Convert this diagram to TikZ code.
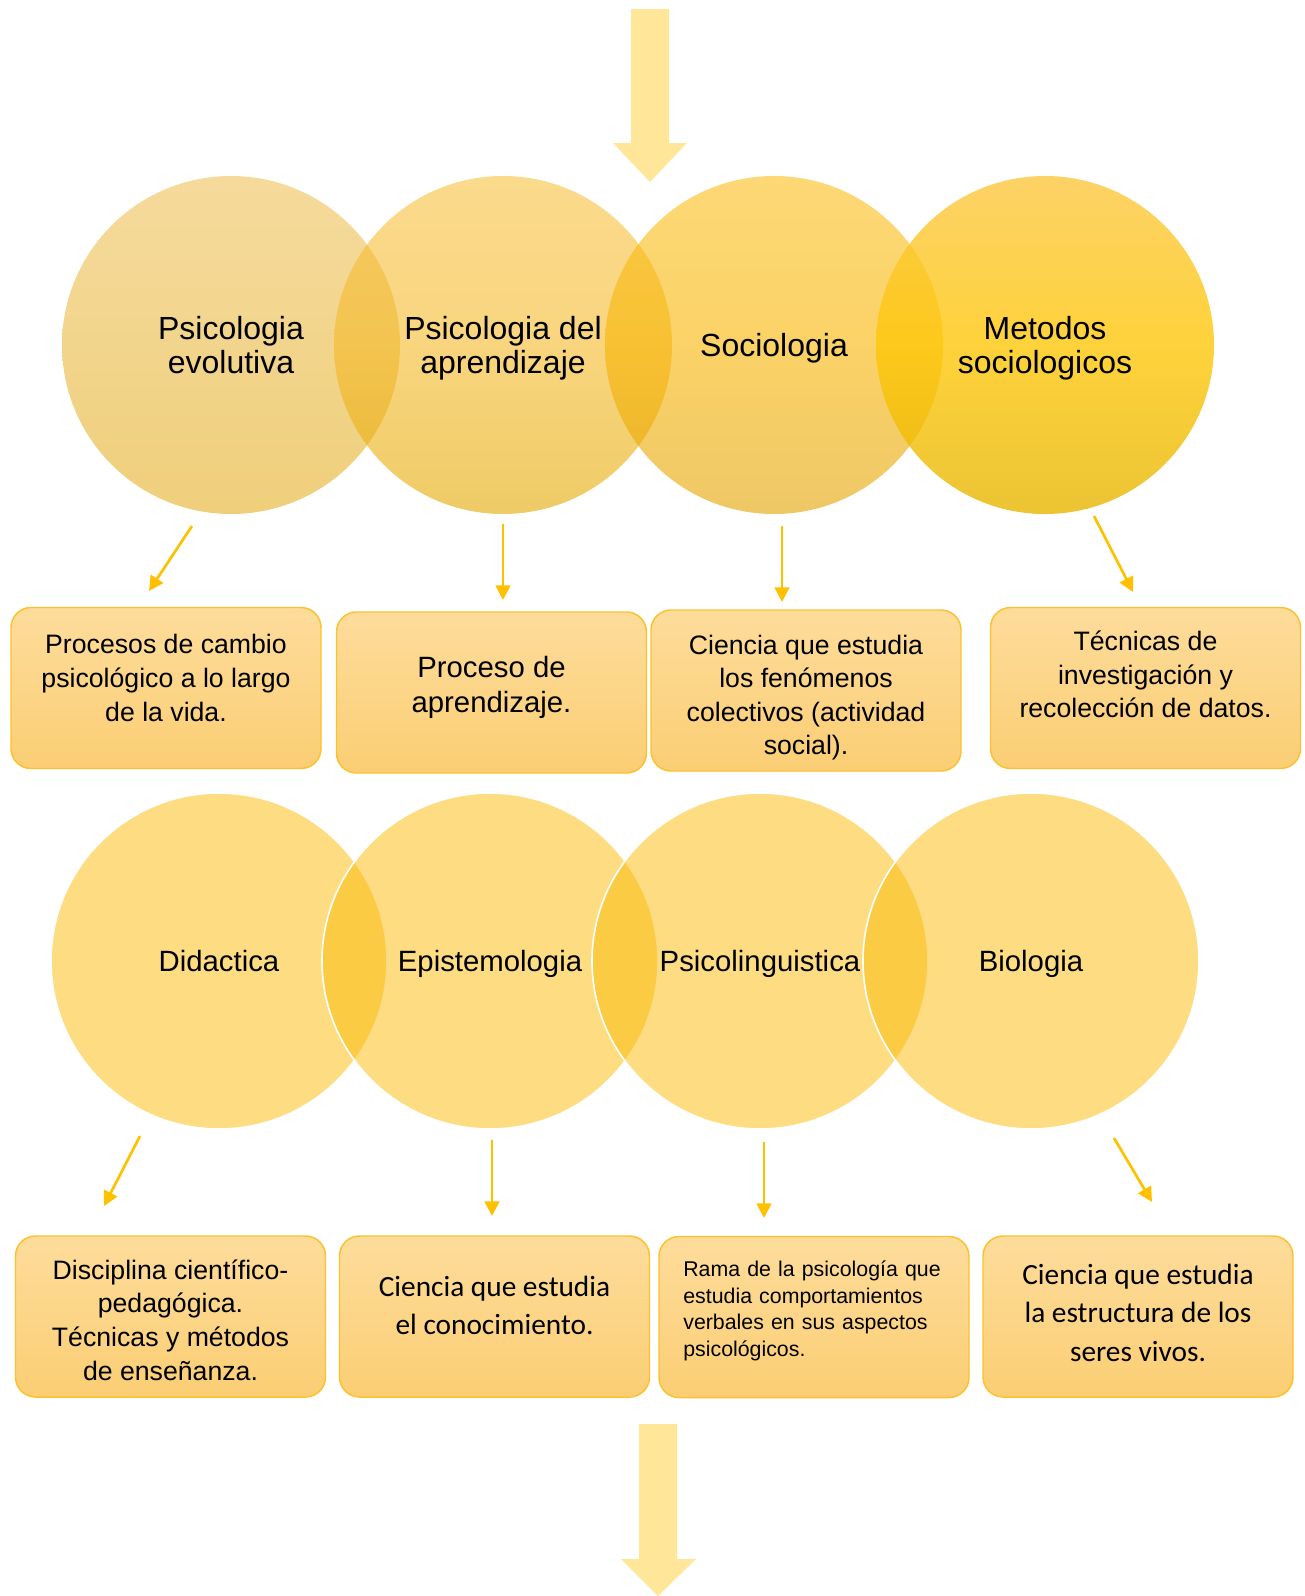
\documentclass[tikz,border=0pt]{standalone}
\usepackage{fontspec}
\setmainfont{Liberation Sans}
\newfontfamily\carlito{Carlito}
\usetikzlibrary{arrows.meta,calc}
\definecolor{flowyellow}{HTML}{FFE699}
\definecolor{pointgold}{HTML}{FFC000}
\definecolor{boxline}{HTML}{FBC22D}
\definecolor{boxtop}{HTML}{FDDC9B}
\definecolor{boxbottom}{HTML}{FBCE74}
\definecolor{onetop}{HTML}{F5DA9C}
\definecolor{onemid}{HTML}{F2D58C}
\definecolor{onebottom}{HTML}{EFCF7B}
\definecolor{twotop}{HTML}{F7C13F}
\definecolor{twomid}{HTML}{F5B928}
\definecolor{twobottom}{HTML}{E4A800}
\definecolor{threetop}{HTML}{FBBE1A}
\definecolor{threemid}{HTML}{F8B400}
\definecolor{threebottom}{HTML}{E4A200}
\definecolor{fourtop}{HTML}{FCC740}
\definecolor{fourmid}{HTML}{FEC709}
\definecolor{fourbottom}{HTML}{E7B500}
\definecolor{lowbase}{HTML}{FBBA06}
\tikzset{
	venntop/.style={
		circle, minimum size=253.5pt, inner sep=0pt, align=center, text depth=0pt,
		text opacity=1, font=\fontsize{24}{25.5}\selectfont
	},
	%
	vennlow/.style={
		circle, minimum size=252pt, inner sep=0pt, align=center, text height=16pt, text depth=0pt,
		draw=white, line width=1.2pt, fill=lowbase, fill opacity=0.5,
		text opacity=1, font=\fontsize{22}{26}\selectfont
	},
	%
	infobox/.style={
		rectangle, rounded corners=15pt, minimum width=232.5pt, minimum height=120.75pt,
		align=center, draw=boxline, line width=1.1pt, top color=boxtop, bottom color=boxbottom,
		font=\fontsize{20}{25.2}\selectfont
	},
	%
	pointer/.style={
		-{Triangle[length=11pt,width=11pt]}, draw=pointgold, line width=2pt
	},
	%
	bigflow/.style={
		fill=flowyellow
	}
}
\begin{document}
\begin{tikzpicture}[x=0.75pt, y=-0.75pt]
    \useasboundingbox (0,0) rectangle (1304,1596);
    % flow in and out
    \fill[bigflow] (631,9) -- (669,9) -- (669,143) -- (687,143) -- (650,182) -- (613,143) -- (631,143) -- cycle;
    \fill[bigflow] (639,1424) -- (677,1424) -- (677,1559) -- (696,1559) -- (658,1596) -- (621,1559) -- (639,1559) -- cycle;
    % upper circles
    \node(psievo)[venntop, top color=onetop, bottom color=onebottom, middle color=onemid] at (231,345) {Psicologia\\evolutiva};
    \node(psiapr)[venntop, fill opacity=0.6, top color=twotop, bottom color=twobottom, middle color=twomid] at (503,345) {Psicologia del\\aprendizaje};
    \node(socio)[venntop, fill opacity=0.6, top color=threetop, bottom color=threebottom, middle color=threemid] at (774,345) {Sociologia};
    \node(metodos)[venntop, fill opacity=0.8, top color=fourtop, bottom color=fourbottom, middle color=fourmid] at (1045,345) {Metodos\\sociologicos};
    % upper boxes
    \node(psievobox)[infobox] at (166,688) {Procesos de cambio\\psicológico a lo largo\\de la vida.\\[-10pt]};
    \node(psiaprbox)[infobox, font=\fontsize{22}{26}\selectfont] at (491.5,692.5) {Proceso de\\aprendizaje.\\[-14pt]};
    \node(sociobox)[infobox] at (806,690.5) {\rule{0pt}{25pt}Ciencia que estudia\\los fenómenos\\colectivos (actividad\\social).};
    \node(metodosbox)[infobox] at (1145.5,688) {Técnicas de\\investigación y\\recolección de datos.\\[-5pt]};
    % lower circles
    \node(didac)[vennlow] at (219,961) {Didactica};
    \node(episte)[vennlow] at (490,961) {Epistemologia};
    \node(psiling)[vennlow] at (760,961) {Psicolinguistica};
    \node(biolo)[vennlow] at (1031,961) {Biologia};
    % lower boxes
    \node(didacbox)[infobox] at (170.5,1316.5) {\rule{0pt}{20pt}Disciplina científico-\\pedagógica.\\Técnicas y métodos\\de enseñanza.};
    \node(epistebox)[infobox, font=\carlito\fontsize{22}{29}\selectfont] at (494.5,1316.5) {Ciencia que estudia\\el conocimiento.\\[-12pt]};
    \node(psilingbox)[infobox, inner ysep=0pt, text depth=72pt, align=left, text width=196pt, font=\fontsize{16}{19.9}\selectfont] at (814,1317) {Rama de la psicología que\\estudia comportamientos\\verbales en sus aspectos\\psicológicos.};
    \node(biolobox)[infobox, font=\carlito\fontsize{22}{29}\selectfont] at (1138,1316.5) {Ciencia que estudia\\la estructura de los\\seres vivos.\\[-23pt]};
    % pointers from circles to boxes
    \foreach \sx/\sy/\ex/\ey [count=\i] in {192/526/149/591, 503/524/503/600, 782/526/782/602, 1094/516/1133/592,
        140/1136/104/1206, 492/1140/492/1216, 764/1142/764/1218, 1114/1138/1152/1202}{
        \coordinate(from\i) at (\sx,\sy);
        \coordinate(to\i) at (\ex,\ey);
        \draw[pointer] (from\i) -- (to\i);
    }
\end{tikzpicture}
\end{document}
